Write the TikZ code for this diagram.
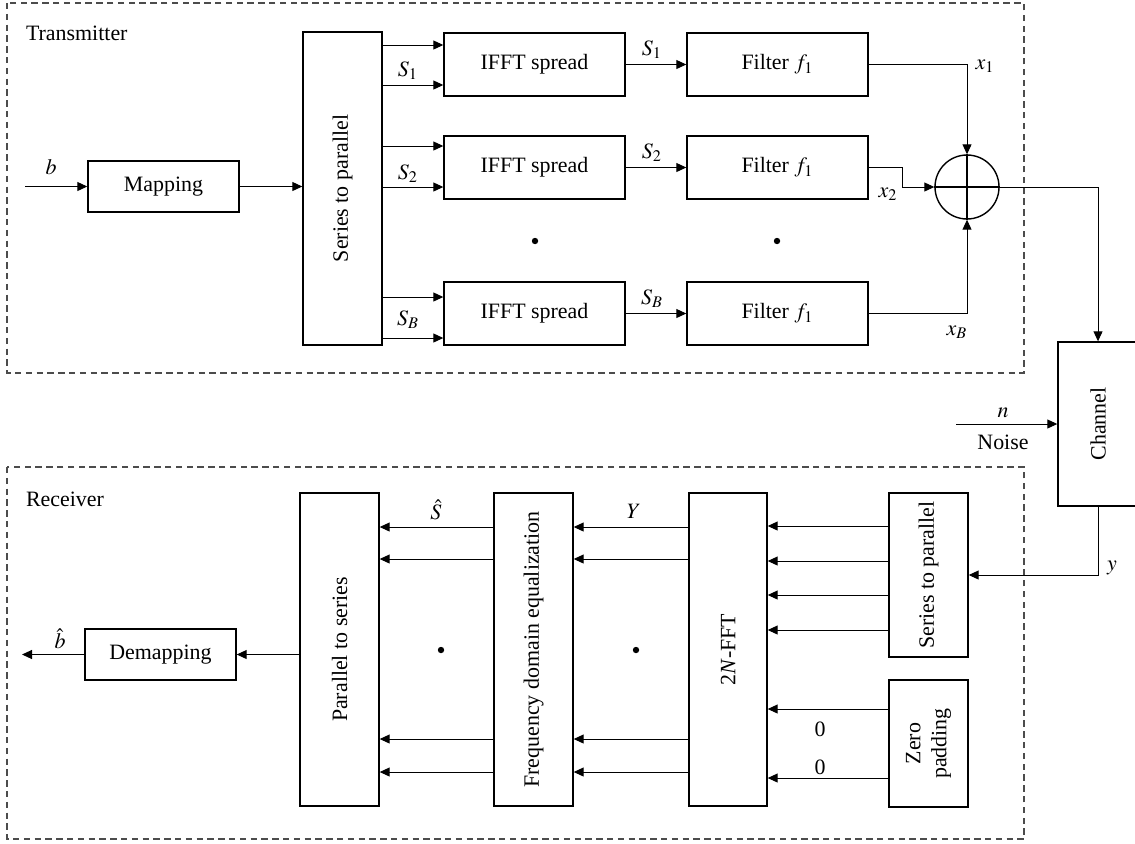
\documentclass[tikz,border=0pt]{standalone}
\usepackage{mathptmx}
\usepackage[no-math]{fontspec}
\setmainfont{Liberation Serif}
\usetikzlibrary{arrows.meta}

\begin{document}
\begin{tikzpicture}[x=0.5bp,y=-0.5bp,font=\fontsize{11}{13}\selectfont,
  blk/.style={draw,line width=0.7pt,inner sep=0pt},
  arr/.style={-{Triangle[length=5bp,width=4.5bp]},line width=0.5pt},
  zone/.style={draw=black!70,line width=0.6pt,dash pattern=on 3.2bp off 2.2bp}]
  \useasboundingbox (0,0) rectangle (1135,843);
  \draw[zone] (7,3) rectangle (1024,373);
  \draw[zone] (7,467) rectangle (1024,839);
  \node[anchor=west] (txname) at (19,33) {Transmitter};
  \node[anchor=west] (rxname) at (19,499) {Receiver};
  \node[blk,minimum width=75.5bp,minimum height=25.5bp] (mapT) at (163.5,186.5) {Mapping};
  \node[blk,minimum width=39.5bp,minimum height=156.5bp,
    label={[rotate=90]center:Series to parallel}] (stpT) at (342.5,188.5) {};
  \coordinate (bin) at (25,186.5);
  \draw[arr] (bin) -- (mapT.west);
  \node (blab) at (51,167) {$b$};
  \draw[arr] (mapT.east) -- (stpT.west |- mapT.east);
  \foreach \r/\yc/\ya/\yb/\s in {A/64.5/45/85/1,B/167.5/146/187/2,C/313.5/297/338/B}{
    \node[blk,minimum width=90.5bp,minimum height=31.5bp] (ifft\r) at (534.5,\yc) {IFFT spread};
    \node[blk,minimum width=90.5bp,minimum height=31.5bp] (filt\r) at (777.5,\yc) {Filter $f_1$};
    \draw[arr] (stpT.east |- 0,\ya) -- (ifft\r.west |- 0,\ya);
    \draw[arr] (stpT.east |- 0,\yb) -- (ifft\r.west |- 0,\yb);
    \draw[arr] (ifft\r.east) -- (filt\r.west);
    \node (sa\r) at (408,\yc+6) {$S_\s$};
    \node (sb\r) at (652,\yc-15) {$S_\s$};
  }
  \fill (535,241) circle (1.6bp);
  \fill (777,241) circle (1.6bp);
  \node[draw,circle,line width=0.7pt,minimum size=32bp,inner sep=0pt] (sum) at (967,187) {};
  \draw[line width=0.7pt] (sum.north) -- (sum.south) (sum.west) -- (sum.east);
  \draw[arr] (filtA.east) -| (sum.north);
  \draw[arr] (filtB.east) -- ++(34,0) |- (sum.west);
  \draw[arr] (filtC.east) -| (sum.south);
  \node (xa) at (985,66) {$x_1$};
  \node (xb) at (888,194) {$x_2$};
  \node (xc) at (957,332) {$x_B$};
  \node[blk,minimum width=40bp,minimum height=82bp,
    label={[rotate=90]center:Channel}] (chan) at (1098,424) {};
  \draw[arr] (sum.east) -| (chan.north);
  \coordinate (noisein) at (956,424);
  \draw[arr] (noisein) -- (chan.west);
  \node (nlab) at (1003,413) {$n$};
  \node (noiselab) at (1003,442) {Noise};
  \node[blk,minimum width=39.5bp,minimum height=82bp,
    label={[rotate=90]center:Series to parallel}] (stpR) at (928.5,575) {};
  \node[blk,minimum width=39.5bp,minimum height=63.5bp,
    label={[rotate=90,align=center]center:Zero\\padding}] (zpad) at (928.5,743.5) {};
  \node[blk,minimum width=39bp,minimum height=156.5bp,
    label={[rotate=90]center:2\textit{N}-FFT}] (fft) at (728,649.5) {};
  \node[blk,minimum width=39.5bp,minimum height=156.5bp,
    label={[rotate=90]center:Frequency domain equalization}] (fde) at (533.5,649.5) {};
  \node[blk,minimum width=39.5bp,minimum height=156.5bp,
    label={[rotate=90]center:Parallel to series}] (pts) at (339.5,649.5) {};
  \node[blk,minimum width=75.5bp,minimum height=25.5bp] (demap) at (160.5,654.5) {Demapping};
  \draw[arr] (chan.south) |- (stpR.east);
  \node (ylab) at (1112,568) {$y$};
  \foreach \yy in {526,561,595,630}
    \draw[arr] (stpR.west |- 0,\yy) -- (fft.east |- 0,\yy);
  \foreach \yy in {709,778}
    \draw[arr] (zpad.west |- 0,\yy) -- (fft.east |- 0,\yy);
  \node (zeroa) at (820,729) {0};
  \node (zerob) at (820,767) {0};
  \foreach \yy in {527,559,739,772}{
    \draw[arr] (fft.west |- 0,\yy) -- (fde.east |- 0,\yy);
    \draw[arr] (fde.west |- 0,\yy) -- (pts.east |- 0,\yy);
  }
  \node (ylabel) at (634,511) {$Y$};
  \node (shat) at (436,510) {$\hat{S}$};
  \fill (441,650) circle (1.6bp);
  \fill (636,650) circle (1.6bp);
  \draw[arr] (pts.west |- demap.east) -- (demap.east);
  \coordinate (bout) at (22,654.5);
  \draw[arr] (demap.west) -- (bout);
  \node (bhat) at (60,639) {$\hat{b}$};
\end{tikzpicture}
\end{document}
